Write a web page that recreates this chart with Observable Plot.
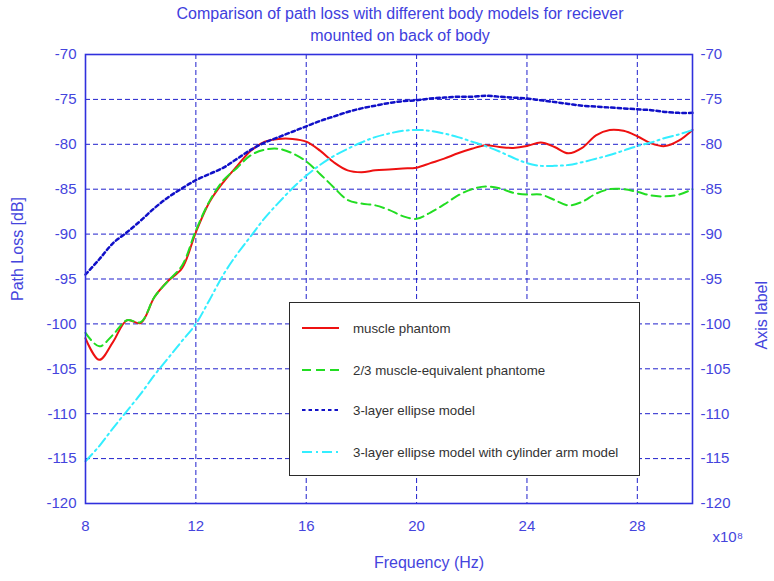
<!DOCTYPE html>
<html>
<head>
<meta charset="utf-8">
<script src="https://cdn.jsdelivr.net/npm/d3@7"></script>
<script src="https://cdn.jsdelivr.net/npm/@observablehq/plot@0.6"></script>
<style>
  html, body { margin: 0; padding: 0; background: #fff; }
  #wrap { position: relative; width: 774px; height: 581px; font-family: "Liberation Sans", Arial, sans-serif; }
  #title { height: 46px; box-sizing: border-box; padding-top: 3px; padding-left: 26px; text-align: center; color: #4040dd; font-size: 16px; line-height: 22px; }
  #legend { position: absolute; left: 289px; top: 302px; width: 351px; height: 174px; box-sizing: border-box; border: 1.5px solid #2a2a2a; background: #fff; }
  .row { position: absolute; left: 12px; height: 20px; display: flex; align-items: center; font-size: 13.3px; color: #333; }
  .row svg { margin-right: 14px; }
</style>
</head>
<body>
<div id="wrap">
  <div id="title"></div>
  <div id="chart"></div>
  <div id="legend"></div>
</div>
<script>
const titleLines = ["Comparison of path loss with different body models for reciever", "mounted on back of body"];
const xLabel = "Frequency (Hz)";
const yLabel = "Path Loss [dB]";
const yLabelRight = "Axis label";
const xExponent = "x10⁸";
const xTicks = [8, 12, 16, 20, 24, 28];
const yTicks = [-120, -115, -110, -105, -100, -95, -90, -85, -80, -75, -70];
const seriesNames = ["muscle phantom", "2/3 muscle-equivalent phantome", "3-layer ellipse model", "3-layer ellipse model with cylinder arm model"];

const freq = [8, 8.5, 9, 9.5, 10, 10.5, 11, 11.5, 12, 12.5, 13, 13.5, 14, 14.5, 15, 15.5, 16, 16.5, 17, 17.5, 18, 18.5, 19, 19.5, 20, 20.5, 21, 21.5, 22, 22.5, 23, 23.5, 24, 24.5, 25, 25.5, 26, 26.5, 27, 27.5, 28, 28.5, 29, 29.5, 30];
const muscle = [-101.6, -104.0, -102.0, -99.6, -99.9, -97.0, -95.2, -93.8, -89.8, -86.4, -84.2, -82.4, -80.7, -79.7, -79.4, -79.4, -79.7, -80.7, -82.0, -82.9, -83.1, -82.9, -82.8, -82.7, -82.6, -82.1, -81.6, -81.0, -80.5, -80.1, -80.3, -80.4, -80.2, -79.8, -80.3, -81.0, -80.4, -79.0, -78.4, -78.5, -79.1, -79.9, -80.2, -79.6, -78.4];
const muscleEq = [-101.0, -102.5, -101.2, -99.6, -99.8, -97.0, -95.2, -93.5, -89.6, -86.3, -84.0, -82.6, -81.2, -80.6, -80.5, -81.0, -81.9, -83.3, -84.8, -86.2, -86.6, -86.8, -87.3, -88.0, -88.3, -87.6, -86.7, -85.7, -85.0, -84.7, -84.9, -85.4, -85.6, -85.6, -86.2, -86.8, -86.4, -85.5, -85.0, -85.0, -85.3, -85.7, -85.8, -85.6, -85.0];
const ellipse = [-94.5, -92.8, -91.0, -89.8, -88.5, -87.1, -85.9, -84.9, -84.0, -83.3, -82.6, -81.6, -80.6, -79.8, -79.2, -78.6, -78.0, -77.4, -76.9, -76.4, -76.0, -75.7, -75.4, -75.2, -75.1, -74.9, -74.8, -74.7, -74.7, -74.6, -74.7, -74.8, -74.9, -75.1, -75.3, -75.5, -75.7, -75.8, -75.9, -76.0, -76.1, -76.2, -76.4, -76.5, -76.5];
const ellipseArm = [-115.3, -113.6, -111.6, -109.7, -107.8, -105.7, -103.8, -101.9, -100.0, -97.3, -94.5, -92.2, -90.2, -88.2, -86.5, -84.9, -83.5, -82.3, -81.3, -80.5, -79.8, -79.2, -78.8, -78.5, -78.4, -78.5, -78.8, -79.2, -79.7, -80.2, -80.8, -81.5, -82.1, -82.4, -82.4, -82.3, -82.0, -81.6, -81.2, -80.7, -80.2, -79.8, -79.3, -78.9, -78.4];

const styles = [
  {stroke: "#ee1111", dash: null, width: 2},
  {stroke: "#22dd22", dash: "9,5", width: 2},
  {stroke: "#1010c8", dash: "3.5,3", width: 2.5},
  {stroke: "#33eeff", dash: "10,4,2,4", width: 2}
];
const seriesValues = [muscle, muscleEq, ellipse, ellipseArm];

document.getElementById("title").innerHTML = titleLines.map(t => `<div>${t}</div>`).join("");

const gridColor = "#2020cc";
const textColor = "#4444dd";
const lines = seriesValues.map((vals, k) =>
  Plot.line(vals, {x: (d, i) => freq[i], y: d => d, stroke: styles[k].stroke, strokeWidth: styles[k].width, strokeDasharray: styles[k].dash, curve: "catmull-rom"})
);

const chart = Plot.plot({
  width: 774,
  height: 535,
  marginTop: 8,
  marginBottom: 78,
  marginLeft: 85,
  marginRight: 82,
  style: {fontFamily: "Liberation Sans, Arial, sans-serif", fontSize: "15px", color: textColor, background: "white"},
  x: {domain: [8, 30]},
  y: {domain: [-120, -70]},
  marks: [
    Plot.gridX(xTicks, {stroke: gridColor, strokeOpacity: 1, strokeDasharray: "5,3"}),
    Plot.gridY(yTicks, {stroke: gridColor, strokeOpacity: 1, strokeDasharray: "5,3"}),
    ...lines,
    Plot.frame({stroke: "#3030dd", strokeWidth: 1.6}),
    Plot.axisX(xTicks, {anchor: "bottom", tickSize: 0, tickPadding: 17, tickFormat: d => String(d), label: null}),
    Plot.axisY(yTicks, {anchor: "left", tickSize: 0, tickPadding: 9, tickFormat: d => String(d), label: null}),
    Plot.axisY(yTicks, {anchor: "right", tickSize: 0, tickPadding: 8, tickFormat: d => String(d), label: null}),
    Plot.text([xLabel], {frameAnchor: "bottom", text: d => d, dx: 40, dy: 64, fill: textColor, fontSize: 16}),
    Plot.text([yLabel], {frameAnchor: "left", text: d => d, rotate: -90, dx: -68, dy: 22, fill: textColor, fontSize: 16}),
    Plot.text([yLabelRight], {frameAnchor: "right", text: d => d, rotate: -90, dx: 69, dy: 2, fill: textColor, fontSize: 16}),
    Plot.text([xExponent], {frameAnchor: "bottom-right", text: d => d, textAnchor: "start", dx: 20, dy: 38, fill: textColor, fontSize: 15})
  ]
});
document.getElementById("chart").appendChild(chart);

const rowTops = [15, 57, 97, 139];
const legend = document.getElementById("legend");
legend.innerHTML = seriesNames.map((name, k) => {
  const s = styles[k];
  return `<div class="row" style="top:${rowTops[k]}px"><svg width="37" height="6"><line x1="0" x2="37" y1="3" y2="3" stroke="${s.stroke}" stroke-width="2.2" ${s.dash ? `stroke-dasharray="${s.dash}"` : ""}/></svg><span>${name}</span></div>`;
}).join("");
</script>
</body>
</html>
